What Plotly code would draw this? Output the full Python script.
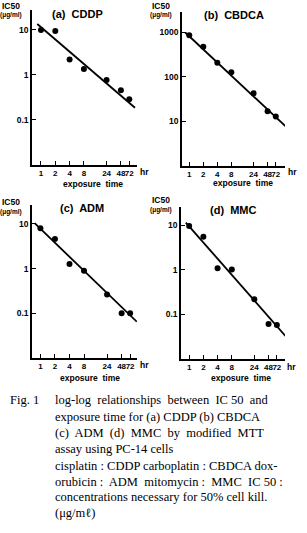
import plotly.graph_objects as go

W, H = 307, 533

hours = [1, 2, 4, 8, 24, 48, 72]
hour_labels = ["1", "2", "4", "8", "24", "48", "72"]

cddp = [10, 9.5, 2.2, 1.36, 0.77, 0.46, 0.29]
cbdca = [870, 475, 210, 127, 43, 17, 13]
adm = [8.0, 4.6, 1.27, 0.90, 0.265, 0.10, 0.10]
mmc = [9.6, 5.5, 1.09, 1.02, 0.22, 0.061, 0.058]

fit_x_cddp = [0.836, 95]
fit_y_cddp = [13.6, 0.187]
fit_x_cbdca = [0.82, 118]
fit_y_cbdca = [1000, 7.7]
fit_x_adm = [0.76, 99]
fit_y_adm = [10.4, 0.065]
fit_x_mmc = [0.85, 109]
fit_y_mmc = [11.5, 0.033]

titles = ["(a)  CDDP", "(b)  CBDCA", "(c)  ADM", "(d)  MMC"]
ytick_sets = [[0.1, 1, 10], [10, 100, 1000], [0.1, 1, 10], [0.1, 1, 10]]
ytick_text = [["0.1", "1", "10"], ["10", "100", "1000"], ["0.1", "1", "10"], ["0.1", "1", "10"]]

caption_head = "Fig. 1"
caption_lines = [
    "log-log  relationships  between  IC 50  and",
    "exposure time for (a) CDDP (b) CBDCA",
    "(c)  ADM  (d)  MMC  by  modified  MTT",
    "assay using PC-14 cells",
    "cisplatin : CDDP carboplatin : CBDCA dox-",
    "orubicin :  ADM  mitomycin :  MMC  IC 50 :",
    "concentrations necessary for 50% cell kill.",
    "(μg/mℓ)",
]

series = [cddp, cbdca, adm, mmc]
fits = [(fit_x_cddp, fit_y_cddp), (fit_x_cbdca, fit_y_cbdca),
        (fit_x_adm, fit_y_adm), (fit_x_mmc, fit_y_mmc)]

# panel geometry in pixels: x0, x1, y_top, y_bottom, xrange(log), yrange(log)
panels = [
    dict(x0=32, x1=137, yt=10, yb=165, xr=[-0.189, 2.02], yr=[-2.0, 1.444]),
    dict(x0=182, x1=285, yt=12, yb=166, xr=[-0.156, 2.055], yr=[0.0, 3.46]),
    dict(x0=32, x1=137, yt=205, yb=358, xr=[-0.174, 2.0], yr=[-2.0, 1.425]),
    dict(x0=181, x1=285, yt=207, yb=359, xr=[-0.173, 2.03], yr=[-2.0, 1.41]),
]

def px(x):
    return x / W

def py(y):
    return 1 - y / H

fig = go.Figure()
SANS = "Liberation Sans, Arial, sans-serif"
SERIF = "Liberation Serif, Times New Roman, serif"

for i, p in enumerate(panels):
    n = "" if i == 0 else str(i + 1)
    xa, ya = "x" + n, "y" + n
    fig.add_trace(go.Scatter(x=fits[i][0], y=fits[i][1], mode="lines",
                             line=dict(color="black", width=1.8),
                             xaxis=xa, yaxis=ya, showlegend=False, hoverinfo="skip"))
    fig.add_trace(go.Scatter(x=hours, y=series[i], mode="markers",
                             marker=dict(color="black", size=6),
                             xaxis=xa, yaxis=ya, showlegend=False))
    common = dict(showline=True, linecolor="black", linewidth=1.6, showgrid=False,
                  zeroline=False, ticks="inside", ticklen=4, tickwidth=1.4,
                  tickcolor="black", type="log")
    fig.layout["xaxis" + n] = dict(
        **common, domain=[px(p["x0"]), px(p["x1"])], range=p["xr"],
        anchor=ya, tickvals=hours, ticktext=hour_labels, tickangle=0,
        tickfont=dict(family=SANS, size=8, color="black", weight="bold"),
    )
    fig.layout["yaxis" + n] = dict(
        **common, domain=[py(p["yb"]), py(p["yt"])], range=p["yr"],
        anchor=xa, tickvals=ytick_sets[i], ticktext=ytick_text[i],
        tickfont=dict(family=SANS, size=8.5, color="black", weight="bold"),
    )

ann = []
def add_text(x, y, text, size, family=SANS, weight="bold", xanchor="center"):
    ann.append(dict(x=px(x), y=py(y), xref="paper", yref="paper", text=text,
                    showarrow=False, xanchor=xanchor, yanchor="middle",
                    font=dict(family=family, size=size, color="black", weight=weight)))

title_pos = [(77.5, 14), (234, 15), (82, 208), (233, 210)]
ic_pos = [(10.5, 6, 15), (160.5, 6, 15), (10.5, 201.5, 211.5), (160.5, 200, 210)]
expo_pos = [(92.5, 184), (242.5, 183), (90, 377.5), (241, 378)]
hr_pos = [(144, 172), (292, 172), (144, 365), (291, 367)]

for i in range(4):
    add_text(*title_pos[i], titles[i], 11)
    add_text(ic_pos[i][0], ic_pos[i][1], "IC50", 8.5)
    add_text(ic_pos[i][0], ic_pos[i][2], "(μg/ml)", 6.5)
    add_text(*expo_pos[i], "exposure  time", 8.5)
    add_text(*hr_pos[i], "hr", 8.5)

add_text(8, 400, caption_head, 12.5, family=SERIF, weight="normal", xanchor="left")
line_y = [400, 416.5, 432.5, 449.3, 466, 481.7, 497.3, 512.7]
for t, yy in zip(caption_lines, line_y):
    add_text(52.7, yy, t, 12.5, family=SERIF, weight="normal", xanchor="left")

fig.update_layout(width=W, height=H, margin=dict(l=0, r=0, t=0, b=0),
                  paper_bgcolor="white", plot_bgcolor="white",
                  annotations=ann, showlegend=False)

fig.write_html("out.html")
